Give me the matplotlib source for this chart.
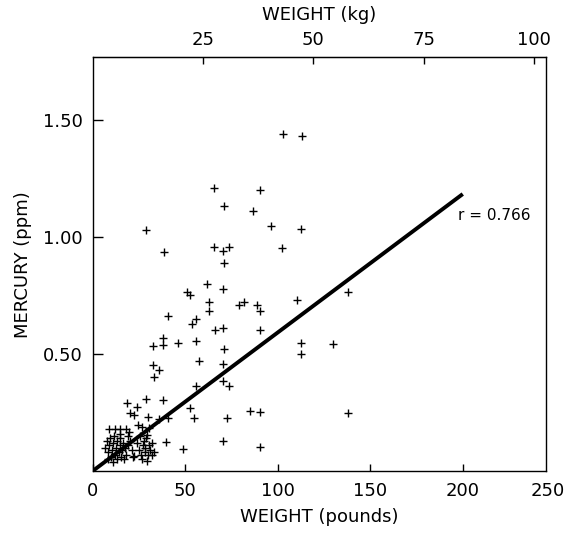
import numpy as np
import matplotlib
matplotlib.use('Agg')
import matplotlib.pyplot as plt

# fish weight (pounds) vs mercury (ppm)
weight_lb = [
    # upper points
    102.6, 113.0, 65.7, 90.4, 71.0, 86.6, 28.6, 96.4, 112.6, 38.5,
    65.7, 70.6, 73.8, 102.5, 71.0,
    # middle band
    61.8, 70.6, 50.8, 52.6, 110.6, 63.0, 63.0, 79.1, 81.9, 88.6,
    90.4, 40.9, 55.8, 53.5, 65.9, 70.6, 90.4, 37.8, 37.8, 32.8,
    46.1, 55.8, 71.0, 112.6, 112.6, 57.6, 32.4, 36.0, 33.1, 70.6,
    73.5, 55.8, 70.6,
    # right / lower scattered
    138.0, 130.0, 138.0,
    28.8, 37.8, 18.4, 23.8, 20.2, 22.3, 52.6, 54.8, 72.4, 85.0,
    90.4, 35.7, 40.9, 30.1, 26.5, 70.6, 39.6, 48.6, 90.4, 29.2,
    31.9, 22.3, 24.7, 30.6, 19.8,
    9.0, 11.9, 14.8, 17.8,
    # left cluster
    6.5, 7.5, 8.0, 9.0, 9.5, 10.0, 10.5, 11.0, 11.5, 12.0,
    12.5, 13.0, 13.0, 14.0, 14.5, 15.0, 15.5, 16.0, 16.5, 17.0,
    17.5, 18.0, 19.0, 20.0, 21.0, 22.0, 8.5, 11.0, 19.0, 15.0,
    # second cluster
    24.0, 25.0, 25.5, 26.0, 27.0, 27.5, 28.0, 28.5, 29.0, 30.0,
    30.5, 31.0, 32.0, 33.0, 26.5, 29.5,
]
mercury_ppm = [
    1.443, 1.432, 1.212, 1.204, 1.132, 1.111, 1.030, 1.048, 1.037, 0.935,
    0.959, 0.941, 0.959, 0.954, 0.888,
    0.799, 0.778, 0.766, 0.755, 0.731, 0.724, 0.685, 0.709, 0.724, 0.709,
    0.685, 0.664, 0.652, 0.631, 0.603, 0.610, 0.605, 0.567, 0.538, 0.536,
    0.546, 0.556, 0.524, 0.546, 0.500, 0.470, 0.452, 0.432, 0.403, 0.386,
    0.363, 0.363, 0.457,
    0.765, 0.545, 0.250,
    0.306, 0.303, 0.292, 0.275, 0.249, 0.238, 0.268, 0.225, 0.225, 0.258,
    0.251, 0.221, 0.225, 0.229, 0.189, 0.130, 0.125, 0.094, 0.104, 0.043,
    0.068, 0.064, 0.195, 0.182, 0.168,
    0.180, 0.180, 0.180, 0.180,
    0.10, 0.13, 0.08, 0.11, 0.14, 0.06, 0.09, 0.12, 0.15, 0.07,
    0.10, 0.05, 0.13, 0.08, 0.11, 0.14, 0.06, 0.09, 0.12, 0.05,
    0.10, 0.07, 0.11, 0.13, 0.09, 0.06, 0.05, 0.04, 0.15, 0.16,
    0.12, 0.09, 0.15, 0.07, 0.11, 0.13, 0.08, 0.10, 0.14, 0.07,
    0.11, 0.09, 0.12, 0.08, 0.05, 0.155,
]

# regression line end points
fit_x = [0, 200]
fit_y = [0, 1.185]
r_label = 'r = 0.766'

x_ticks = [0, 50, 100, 150, 200]
y_ticks = [0.5, 1.0, 1.5]
kg_ticks = [25, 50, 75, 100]
LB_PER_KG = 2.385  # as drawn on the original top axis

plt.rcParams['font.family'] = 'DejaVu Sans'

fig = plt.figure(figsize=(5.67, 5.39), dpi=100)
ax = fig.add_axes([0.1635, 0.1262, 0.7995, 0.7675])

ax.plot(weight_lb, mercury_ppm, linestyle='none', marker='+', color='black',
        markersize=6, markeredgewidth=1.0)
ax.plot(fit_x, fit_y, color='black', linewidth=2.8, solid_capstyle='butt')
ax.text(197.5, 1.094, r_label, fontsize=11, va='center', ha='left')

ax.set_xlim(0, 245)
ax.set_ylim(0, 1.77)
ax.set_xticks(x_ticks)
ax.set_yticks(y_ticks)
ax.set_yticklabels(['%.2f' % v for v in y_ticks])
ax.tick_params(axis='x', direction='in', length=5, width=1, pad=8, labelsize=13)
ax.tick_params(axis='y', direction='in', length=7, width=1, pad=7, labelsize=13)
# the 250 label sits at the right edge of the frame, as in the original
ax.annotate('250', xy=(1.0, 0.0), xycoords='axes fraction',
            xytext=(1, -8), textcoords='offset points',
            ha='center', va='top', fontsize=13, annotation_clip=False)

ax.set_xlabel('WEIGHT (pounds)', fontsize=13, labelpad=6)
ax.set_ylabel('MERCURY (ppm)', fontsize=13, labelpad=8)

top = ax.secondary_xaxis('top', functions=(lambda x: x / LB_PER_KG,
                                             lambda k: k * LB_PER_KG))
top.set_xticks(kg_ticks)
top.tick_params(direction='in', length=5, width=1, pad=6, labelsize=13)
top.set_xlabel('WEIGHT (kg)', fontsize=13, labelpad=8)

for s in ax.spines.values():
    s.set_linewidth(1.0)

fig.savefig('out.png', dpi=100)
